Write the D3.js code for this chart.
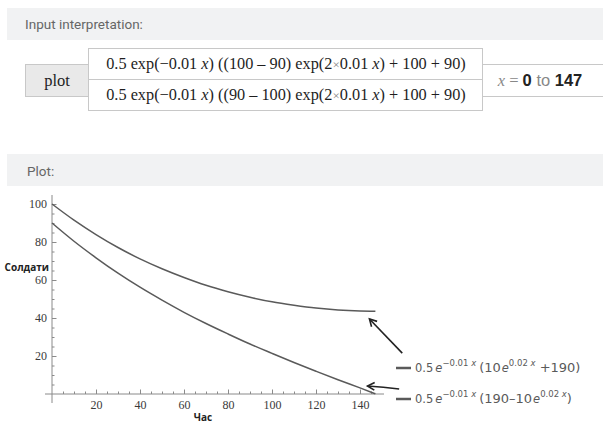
<!DOCTYPE html>
<html>
<head>
<meta charset="utf-8">
<script src="https://cdn.jsdelivr.net/npm/d3@7"></script>
<style>
  body { margin: 0; background: #fff; }
  svg { display: block; }
</style>
</head>
<body>
<svg id="chart" width="603" height="422"></svg>
<script>
// values (x = time, hours)
var xs = [0, 10, 20, 30, 40, 50, 60, 70, 80, 90, 100, 110, 120, 130, 140, 147];
var upperVals = [100, 91.5, 83.9, 77.1, 71.1, 65.9, 61.3, 57.2, 53.8, 50.9, 48.5, 46.7, 45.2, 44.2, 43.7, 43.6];
var lowerVals = [90, 80.4, 71.7, 63.6, 56.2, 49.4, 43.0, 37.1, 31.6, 26.3, 21.4, 16.6, 12.0, 7.5, 3.2, 0.1];
var xTicks = [20, 40, 60, 80, 100, 120, 140];
var yTicks = [20, 40, 60, 80, 100];
var xMinor = d3.range(5, 150, 5);
var yMinor = d3.range(5, 105, 5);

var svg = d3.select("#chart");
var grey = "#5a5a5a";

// ---- header bars ----
svg.append("rect").attr("x", 7).attr("y", 8).attr("width", 596).attr("height", 32).attr("fill", "#f1f2f3");
svg.append("text").attr("x", 25).attr("y", 29).text("Input interpretation:")
    .style("font-family", "Roboto, sans-serif").style("font-size", "13.5px").style("fill", "#666");

svg.append("rect").attr("x", 7).attr("y", 154).attr("width", 596).attr("height", 32).attr("fill", "#f1f2f3");
svg.append("text").attr("x", 27).attr("y", 176).text("Plot:")
    .style("font-family", "Roboto, sans-serif").style("font-size", "13.5px").style("fill", "#666");

// ---- input table ----
var tbl = svg.append("g");
tbl.append("rect").attr("x", 25.5).attr("y", 64.5).attr("width", 63).attr("height", 32)
    .attr("fill", "#e9e9e9").attr("stroke", "#c8c8c8");
tbl.append("text").attr("x", 57).attr("y", 85.5).attr("text-anchor", "middle").text("plot")
    .style("font-family", "'Liberation Serif', serif").style("font-size", "16.5px").style("fill", "#222");

tbl.append("rect").attr("x", 88.5).attr("y", 48.5).attr("width", 394).attr("height", 31)
    .attr("fill", "#fff").attr("stroke", "#c8c8c8");
tbl.append("rect").attr("x", 88.5).attr("y", 79.5).attr("width", 394).attr("height", 31)
    .attr("fill", "#fff").attr("stroke", "#c8c8c8");
tbl.append("rect").attr("x", 482.5).attr("y", 64.5).attr("width", 125).attr("height", 32)
    .attr("fill", "#fff").attr("stroke", "#c8c8c8");

function formula(y, a, b) {
    var t = tbl.append("text").attr("x", 286).attr("y", y).attr("text-anchor", "middle")
        .style("font-family", "'Liberation Serif', serif").style("font-size", "16.3px").style("fill", "#1e1e1e");
    t.append("tspan").text("0.5 exp(\u22120.01 ");
    t.append("tspan").style("font-style", "italic").text("x");
    t.append("tspan").text(") ((" + a + " \u2013 " + b + ") exp(2");
    t.append("tspan").style("fill", "#888").style("font-size", "13px").text("\u00d7");
    t.append("tspan").text("0.01 ");
    t.append("tspan").style("font-style", "italic").text("x");
    t.append("tspan").text(") + 100 + 90)");
}
formula(69, 100, 90);
formula(100, 90, 100);

var rng = tbl.append("text").attr("x", 540).attr("y", 86).attr("text-anchor", "middle")
    .style("font-family", "'Liberation Serif', serif").style("font-size", "16.5px").style("fill", "#888");
rng.append("tspan").style("font-style", "italic").text("x");
rng.append("tspan").text(" = ");
rng.append("tspan").style("font-weight", "bold").style("fill", "#222").style("font-family", "'Liberation Sans', sans-serif").text("0");
rng.append("tspan").style("font-family", "'Liberation Sans', sans-serif").text(" to ");
rng.append("tspan").style("font-weight", "bold").style("fill", "#222").style("font-family", "'Liberation Sans', sans-serif").text("147");

// ---- plot ----
var x = d3.scaleLinear().domain([0, 147]).range([52, 52 + 147 * 2.2]);
var y = d3.scaleLinear().domain([0, 100]).range([394, 204]);

var plot = svg.append("g");
var axisCol = "#8a8a8a";

// axis lines
plot.append("line").attr("x1", 45).attr("x2", 384).attr("y1", y(0)).attr("y2", y(0)).attr("stroke", axisCol);
plot.append("line").attr("x1", x(0)).attr("x2", x(0)).attr("y1", 195).attr("y2", 403).attr("stroke", axisCol);

// minor ticks
plot.append("g").attr("transform", "translate(0," + y(0) + ")")
    .call(d3.axisBottom(x).tickValues(xMinor).tickSize(-2.5).tickFormat(""))
    .call(g => g.select(".domain").remove())
    .call(g => g.selectAll("line").attr("stroke", axisCol));
plot.append("g").attr("transform", "translate(" + x(0) + ",0)")
    .call(d3.axisLeft(y).tickValues(yMinor).tickSize(-2.5).tickFormat(""))
    .call(g => g.select(".domain").remove())
    .call(g => g.selectAll("line").attr("stroke", axisCol));

// major ticks + labels
plot.append("g").attr("transform", "translate(0," + y(0) + ")")
    .call(d3.axisBottom(x).tickValues(xTicks).tickSize(-4.5).tickPadding(6))
    .call(g => g.select(".domain").remove())
    .call(g => g.selectAll("line").attr("stroke", axisCol))
    .call(g => g.selectAll("text").style("font-family", "'Liberation Serif', serif")
        .style("font-size", "12px").style("fill", "#3a3a3a"));
plot.append("g").attr("transform", "translate(" + x(0) + ",0)")
    .call(d3.axisLeft(y).tickValues(yTicks).tickSize(-4.5).tickPadding(5))
    .call(g => g.select(".domain").remove())
    .call(g => g.selectAll("line").attr("stroke", axisCol))
    .call(g => g.selectAll("text").style("font-family", "'Liberation Serif', serif")
        .style("font-size", "12px").style("fill", "#3a3a3a"));

// axis titles
plot.append("text").attr("x", 49).attr("y", 270.5).attr("text-anchor", "end").text("Солдати")
    .style("font-family", "'Open Sans', sans-serif").style("font-weight", "bold").style("font-size", "10px").style("fill", "#222");
plot.append("text").attr("x", 203).attr("y", 421).attr("text-anchor", "middle").text("Час")
    .style("font-family", "'Open Sans', sans-serif").style("font-weight", "bold").style("font-size", "10px").style("fill", "#222");

// curves
var line = d3.line().x(d => x(d[0])).y(d => y(d[1])).curve(d3.curveMonotoneX);
[upperVals, lowerVals].forEach(function (vals) {
    plot.append("path").datum(xs.map((v, i) => [v, vals[i]]))
        .attr("d", line).attr("fill", "none").attr("stroke", grey).attr("stroke-width", 1.5);
});

// annotation arrows (data coordinates)
var arrows = [
    { from: [159.2, 21.5], to: [144.3, 39.5], bend: 0 },
    { from: [157.8, 2.6], to: [143.4, 4.2], bend: 0.25 }
];
arrows.forEach(function (a) {
    var x1 = x(a.from[0]), y1 = y(a.from[1]), x2 = x(a.to[0]), y2 = y(a.to[1]);
    var mx = (x1 + x2) / 2, my = (y1 + y2) / 2 - a.bend * 3;
    plot.append("path").attr("d", "M" + x1 + "," + y1 + "Q" + mx + "," + my + " " + x2 + "," + y2)
        .attr("fill", "none").attr("stroke", "#222").attr("stroke-width", 1.6);
    var ang = Math.atan2(y2 - my, x2 - mx);
    var len = 8, spread = 0.5;
    var p1 = [x2 - len * Math.cos(ang - spread), y2 - len * Math.sin(ang - spread)];
    var p2 = [x2 - len * Math.cos(ang + spread), y2 - len * Math.sin(ang + spread)];
    plot.append("path").attr("d", "M" + p1 + "L" + x2 + "," + y2 + "L" + p2)
        .attr("fill", "none").attr("stroke", "#222").attr("stroke-width", 1.6);
});

// legend
var legend = [
    { y: 372, parts: ["(10", "e", "0.02 x", " +190)"] },
    { y: 403, parts: ["(190\u201310", "e", "0.02 x", ")"] }
];
legend.forEach(function (l) {
    plot.append("line").attr("x1", 396).attr("x2", 411).attr("y1", l.y - 4).attr("y2", l.y - 4)
        .attr("stroke", grey).attr("stroke-width", 2.5);
    var t = plot.append("text").attr("x", 415).attr("y", l.y)
        .style("font-family", "'DejaVu Sans', sans-serif").style("font-size", "11.5px").style("fill", grey);
    t.append("tspan").text("0.5");
    t.append("tspan").attr("dx", 2).style("font-style", "italic").text("e");
    t.append("tspan").attr("dy", -6).style("font-size", "8.5px").text("\u22120.01 ");
    t.append("tspan").style("font-size", "8.5px").style("font-style", "italic").text("x");
    t.append("tspan").attr("dy", 6).attr("dx", 3).style("font-size", "13px").text(l.parts[0]);
    t.append("tspan").attr("dx", 1).style("font-style", "italic").text(l.parts[1]);
    t.append("tspan").attr("dy", -6).style("font-size", "8.5px").text(l.parts[2].split(" ")[0] + " ");
    t.append("tspan").style("font-size", "8.5px").style("font-style", "italic").text("x");
    t.append("tspan").attr("dy", 6).style("font-size", "13px").text(l.parts[3]);
});
</script>
</body>
</html>
